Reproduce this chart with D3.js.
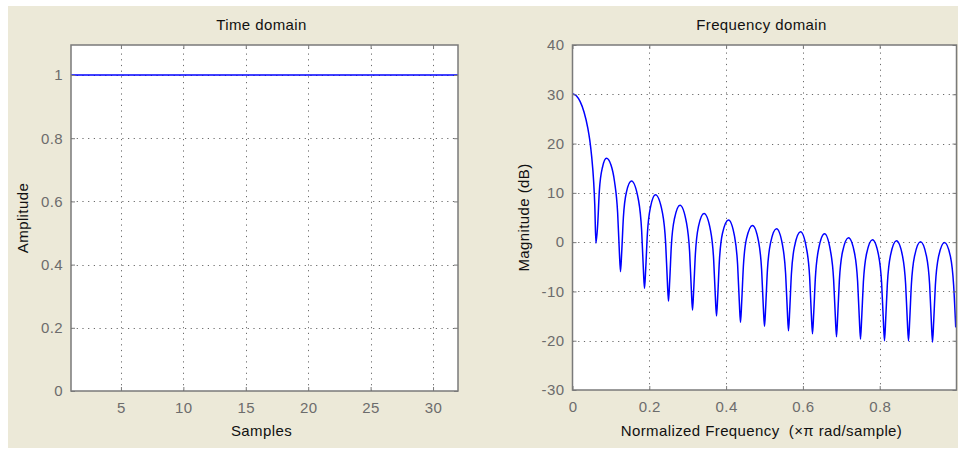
<!DOCTYPE html>
<html>
<head>
<meta charset="utf-8">
<script src="https://cdn.jsdelivr.net/npm/d3@7"></script>
<style>
  html, body { margin: 0; padding: 0; background: #ffffff; }
  svg { display: block; }
  text { font-family: Arial, "Liberation Sans", sans-serif; white-space: pre; }
</style>
</head>
<body>
<svg id="fig" width="958" height="449"></svg>
<script>
// ---- Time domain: rectangular window, 32 samples ----
const sampleIndex = [1, 2, 3, 4, 5, 6, 7, 8, 9, 10, 11, 12, 13, 14, 15, 16,
                     17, 18, 19, 20, 21, 22, 23, 24, 25, 26, 27, 28, 29, 30, 31, 32];
const windowAmplitude = [1, 1, 1, 1, 1, 1, 1, 1, 1, 1, 1, 1, 1, 1, 1, 1,
                         1, 1, 1, 1, 1, 1, 1, 1, 1, 1, 1, 1, 1, 1, 1, 1];
const timeTicksX = [5, 10, 15, 20, 25, 30];
const timeTicksY = [0, 0.2, 0.4, 0.6, 0.8, 1];

// ---- Frequency domain: magnitude response (dB) ----
const normFreq = [
  0, 0.01, 0.02, 0.03, 0.04, 0.045, 0.05, 0.055, 0.058, 0.061,
  0.0656, 0.07, 0.0781, 0.0885, 0.1, 0.1094, 0.1175, 0.1219, 0.125,
  0.1281, 0.1325, 0.1406, 0.1535, 0.1719, 0.18, 0.1844, 0.1875,
  0.1906, 0.195, 0.2031, 0.216, 0.2344, 0.2425, 0.2469, 0.25,
  0.2531, 0.2575, 0.2656, 0.28, 0.2969, 0.305, 0.3094, 0.3125,
  0.3156, 0.32, 0.3281, 0.3425, 0.3594, 0.3675, 0.3719, 0.375,
  0.3781, 0.3825, 0.3906, 0.4063, 0.4219, 0.43, 0.4344, 0.4375,
  0.4406, 0.445, 0.4531, 0.4688, 0.4844, 0.4925, 0.4969, 0.5,
  0.5031, 0.5075, 0.5156, 0.5313, 0.5469, 0.555, 0.5594, 0.5625,
  0.5656, 0.57, 0.5781, 0.5938, 0.6094, 0.6175, 0.6219, 0.625,
  0.6281, 0.6325, 0.6406, 0.6563, 0.6719, 0.68, 0.6844, 0.6875,
  0.6906, 0.695, 0.7031, 0.7188, 0.7344, 0.7425, 0.7469, 0.75,
  0.7531, 0.7575, 0.7656, 0.7813, 0.7969, 0.805, 0.8094, 0.8125,
  0.8156, 0.82, 0.8281, 0.8438, 0.8594, 0.8675, 0.8719, 0.875,
  0.8781, 0.8825, 0.8906, 0.9063, 0.9219, 0.93, 0.9344, 0.9375,
  0.9406, 0.945, 0.9531, 0.9688, 0.9844, 0.9925, 0.998
];
const magnitudeDb = [
  30.1, 29.7, 28.5, 26.4, 23.1, 20.7, 17.3, 12.4, 7.6, -0.2,
  3.6, 10.5, 15.2, 17.0, 15.7, 12.3, 6.0, -1.7, -6.0,
  -2.1, 5.0, 10.2, 12.4, 8.5, 2.4, -5.2, -9.4,
  -5.5, 1.7, 7.1, 9.6, 5.9, -0.1, -7.7, -12.0,
  -7.9, -0.6, 4.8, 7.5, 3.9, -2.0, -9.5, -13.8,
  -9.7, -2.4, 3.2, 5.8, 2.4, -3.4, -10.9, -15.0,
  -11.1, -3.8, 1.8, 4.5, 1.2, -4.6, -12.1, -16.3,
  -12.2, -4.9, 0.7, 3.4, 0.2, -5.6, -13.1, -17.1,
  -13.1, -5.8, -0.2, 2.7, -0.6, -6.4, -13.8, -18.0,
  -13.9, -6.5, -0.9, 2.1, -1.3, -7.0, -14.5, -18.6,
  -14.5, -7.2, -1.5, 1.7, -1.8, -7.6, -15.0, -19.2,
  -15.0, -7.7, -2.0, 0.9, -2.2, -8.0, -15.4, -19.7,
  -15.4, -8.1, -2.4, 0.5, -2.6, -8.3, -15.7, -20.0,
  -15.7, -8.4, -2.7, 0.26, -2.8, -8.5, -15.9, -20.0,
  -15.9, -8.6, -2.9, 0.07, -2.9, -8.6, -16.0, -20.3,
  -16.1, -8.7, -3.0, -0.07, -3.0, -8.7, -17.3
];
const freqTicksX = [0, 0.2, 0.4, 0.6, 0.8];
const freqTicksY = [-30, -20, -10, 0, 10, 20, 30, 40];

// ---- styling ----
const figBg = "#ECE9D8";
const axisGray = "#7a7a7a";
const tickTextGray = "#6c6c6c";
const gridGray = "#6a6a6a";
const traceBlue = "#0000ff";
const fontSize = 15;

const svg = d3.select("#fig");
svg.append("rect")
  .attr("x", 8).attr("y", 6).attr("width", 950).attr("height", 442)
  .attr("fill", figBg);

function drawPanel(cfg) {
  const { x, y, ticksX, ticksY, title, xLabel, yLabel, yLabelX, titleDx } = cfg;
  const [x0, x1] = x.range();
  const [y0, y1] = y.range(); // y0 bottom, y1 top
  const g = svg.append("g");

  // plot area
  g.append("rect")
    .attr("x", x0).attr("y", y1).attr("width", x1 - x0).attr("height", y0 - y1)
    .attr("fill", "#ffffff");

  // dotted grid
  const grid = g.append("g")
    .attr("stroke", gridGray).attr("stroke-width", 1)
    .attr("stroke-dasharray", "1.2,4.5");
  ticksX.filter(v => Math.abs(x(v) - x0) > 1 && Math.abs(x(v) - x1) > 1)
    .forEach(v => {
      const px = Math.round(x(v)) + 0.5;
      grid.append("line").attr("x1", px).attr("x2", px)
        .attr("y1", y0).attr("y2", y1);
    });
  ticksY.filter(v => Math.abs(y(v) - y0) > 1 && Math.abs(y(v) - y1) > 1)
    .forEach(v => {
      const py = Math.round(y(v)) + 0.5;
      grid.append("line").attr("x1", x0).attr("x2", x1)
        .attr("y1", py).attr("y2", py);
    });

  // data trace
  const clipId = "clip" + Math.round(x0);
  g.append("clipPath").attr("id", clipId)
    .append("rect")
    .attr("x", x0).attr("y", y1).attr("width", x1 - x0).attr("height", y0 - y1);
  g.append("path")
    .datum(cfg.points)
    .attr("clip-path", `url(#${clipId})`)
    .attr("fill", "none")
    .attr("stroke", traceBlue)
    .attr("stroke-width", cfg.lineWidth)
    .attr("stroke-linejoin", "round")
    .attr("d", d3.line()
      .x(d => x(d[0]))
      .y(d => y(d[1]))
      .curve(cfg.curve));

  // axes with inward ticks on all four sides
  const fmt = d => String(d);
  const styleAxis = sel => {
    sel.select(".domain").remove();
    sel.selectAll(".tick line").attr("stroke", axisGray).attr("stroke-width", 1);
    sel.selectAll(".tick text")
      .attr("fill", tickTextGray)
      .attr("font-size", fontSize)
      .attr("font-family", "Arial, 'Liberation Sans', sans-serif")
      .attr("letter-spacing", "0.4px");
  };
  g.append("g").attr("transform", `translate(0,${y0})`)
    .call(d3.axisBottom(x).tickValues(ticksX).tickFormat(fmt)
      .tickSizeInner(-4).tickSizeOuter(0).tickPadding(11))
    .call(styleAxis);
  g.append("g").attr("transform", `translate(${x0},0)`)
    .call(d3.axisLeft(y).tickValues(ticksY).tickFormat(fmt)
      .tickSizeInner(-4).tickSizeOuter(0).tickPadding(8))
    .call(styleAxis);
  g.append("g").attr("transform", `translate(0,${y1})`)
    .call(d3.axisTop(x).tickValues(ticksX).tickFormat("")
      .tickSizeInner(-4).tickSizeOuter(0))
    .call(styleAxis);
  g.append("g").attr("transform", `translate(${x1},0)`)
    .call(d3.axisRight(y).tickValues(ticksY).tickFormat("")
      .tickSizeInner(-4).tickSizeOuter(0))
    .call(styleAxis);

  // box
  g.append("rect")
    .attr("x", x0).attr("y", y1).attr("width", x1 - x0).attr("height", y0 - y1)
    .attr("fill", "none").attr("stroke", axisGray).attr("stroke-width", 1.5);

  const cx = (x0 + x1) / 2;
  g.append("text")
    .attr("x", cx + titleDx).attr("y", 30)
    .attr("text-anchor", "middle").attr("font-size", fontSize)
    .attr("letter-spacing", "0.4px").attr("fill", "#111")
    .text(title);
  g.append("text")
    .attr("x", cx + titleDx).attr("y", 436)
    .attr("text-anchor", "middle").attr("font-size", fontSize)
    .attr("letter-spacing", "0.4px").attr("fill", "#111")
    .text(xLabel);
  g.append("text")
    .attr("transform", `translate(${yLabelX},${(y0 + y1) / 2}) rotate(-90)`)
    .attr("text-anchor", "middle").attr("font-size", fontSize)
    .attr("letter-spacing", "0.4px").attr("fill", "#111")
    .text(yLabel);
}

// Time domain panel
const xTime = d3.scaleLinear().domain([1, 32]).range([71, 458]);
const yTime = d3.scaleLinear().domain([0, 1.095]).range([391, 45]);
drawPanel({
  x: xTime, y: yTime,
  ticksX: timeTicksX, ticksY: timeTicksY,
  points: sampleIndex.map((n, i) => [n, windowAmplitude[i]]),
  curve: d3.curveLinear, lineWidth: 1.4,
  title: "Time domain", xLabel: "Samples", yLabel: "Amplitude",
  yLabelX: 28, titleDx: -3
});

// Frequency domain panel
const xFreq = d3.scaleLinear().domain([0, 1]).range([572.5, 956.5]);
const yFreq = d3.scaleLinear().domain([-30, 40]).range([390, 45]);
drawPanel({
  x: xFreq, y: yFreq,
  ticksX: freqTicksX, ticksY: freqTicksY,
  points: normFreq.map((f, i) => [f, magnitudeDb[i]]),
  curve: d3.curveMonotoneX, lineWidth: 1.5,
  title: "Frequency domain", xLabel: "Normalized Frequency  (\u00D7\u03C0 rad/sample)",
  yLabel: "Magnitude (dB)",
  yLabelX: 529, titleDx: -3
});
</script>
</body>
</html>
